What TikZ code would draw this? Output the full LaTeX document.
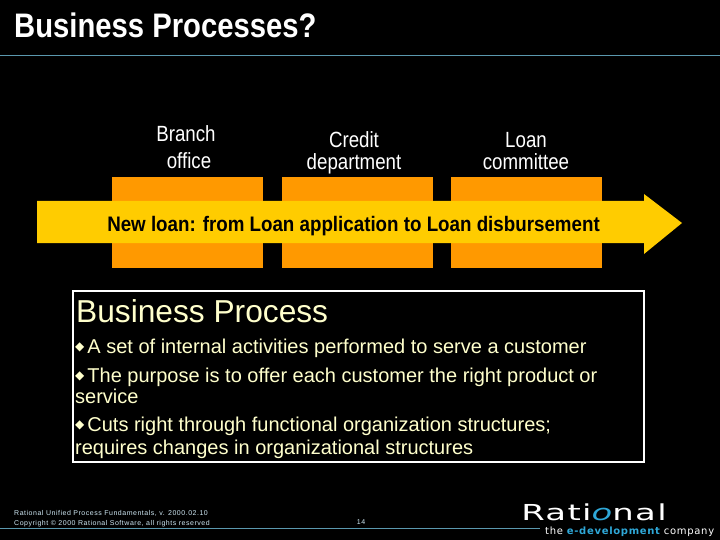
\documentclass[tikz,border=0pt]{standalone}
\usepackage{fontspec}
\setmainfont{Liberation Sans}
\newfontfamily\bulletfont{DejaVu Sans}
\newfontfamily\logofont[LetterSpace=4]{DejaVu Sans}
\newfontfamily\tagfont[LetterSpace=7]{DejaVu Sans}
\newfontfamily\tinyfont[LetterSpace=7.5]{Liberation Sans}
\definecolor{deptColor}{HTML}{FF9900}
\definecolor{arrowColor}{HTML}{FFCC00}
\definecolor{creamColor}{HTML}{FFFFCC}
\definecolor{ruleColor}{HTML}{5A98AE}
\definecolor{logoColor}{HTML}{2FA8D8}
\definecolor{footColor}{HTML}{CFE8F4}
\tikzset{
    squeezed/.style={transform shape, xscale=#1},
    deptlabel/.style={white, align=center, font=\fontsize{22}{22}\selectfont, inner sep=0pt, squeezed=0.85},
    bodyline/.style={creamColor, anchor=base west, font=\fontsize{20}{23}\selectfont, inner sep=0pt},
    footline/.style={footColor, anchor=base west, font=\tinyfont\fontsize{7}{9}\selectfont, inner sep=0pt},
}
\newcommand{\boxbullet}{\raisebox{2.5pt}{\bulletfont\fontsize{12}{12}\selectfont ◆}\kern3pt}

\begin{document}
\begin{tikzpicture}[x=1pt,y=-1pt]
    \useasboundingbox (0,0) rectangle (720,540);
    \fill[black] (0,0) rectangle (720,540);
    % heading
    \node[white, anchor=base west, inner sep=0pt, font=\bfseries\fontsize{34}{34}\selectfont, squeezed=0.86] (heading) at (14,38) {Business Processes?};
    \draw[ruleColor] (0,55) -- (720,55);
    % departments
    \fill[deptColor] (112,177) rectangle (263,268);
    \fill[deptColor] (282,177) rectangle (433,268);
    \fill[deptColor] (451,177) rectangle (602,268);
    \node[deptlabel, anchor=base] (branch) at (186,142) {Branch};
    \node[deptlabel, anchor=base] (office) at (189,169) {office};
    \node[deptlabel, anchor=base] (credit) at (354,148) {Credit};
    \node[deptlabel, anchor=base] (department) at (354,170) {department};
    \node[deptlabel, anchor=base] (loan) at (526,148) {Loan};
    \node[deptlabel, anchor=base] (committee) at (526,170) {committee};
    % process arrow
    \fill[arrowColor] (37,201) -- (644,201) -- (644,194) -- (682,223) -- (644,254) -- (644,243) -- (37,243) -- cycle;
    \node[black, anchor=base, inner sep=0pt, font=\bfseries\fontsize{21}{21}\selectfont, squeezed=0.893] (newloan) at (353.5,231) {New loan: from Loan application to Loan disbursement};
    % text box
    \draw[white, line width=1.5pt] (73,291) rectangle (644,462);
    \node[bodyline, font=\fontsize{31.7}{32}\selectfont] (title) at (76,322) {Business Process};
    \node[bodyline] (lineA) at (75,353) {\boxbullet A set of internal activities performed to serve a customer};
    \node[bodyline] (lineB) at (75,382) {\boxbullet The purpose is to offer each customer the right product or};
    \node[bodyline] (lineC) at (75,403) {service};
    \node[bodyline] (lineD) at (75,431) {\boxbullet Cuts right through functional organization structures;};
    \node[bodyline] (lineE) at (75,454) {requires changes in organizational structures};
    % footer
    \node[footline] (footA) at (14,515) {Rational Unified Process Fundamentals, v. 2000.02.10};
    \node[footline] (footB) at (14,525) {Copyright © 2000 Rational Software, all rights reserved};
    \node[footline, anchor=base] (pagenum) at (361,524) {14};
    \draw[ruleColor] (0,528) -- (540,528);
    % logo
    \node[white, anchor=base west, inner sep=0pt, font=\logofont\fontsize{22}{22}\selectfont, squeezed=1.54] (logo) at (521,520) {Rati{\color{logoColor}\itshape o}nal};
    \node[white, anchor=base west, inner sep=0pt, font=\tagfont\fontsize{10}{10}\selectfont] (tagline) at (545,534) {the {\color{logoColor}\bfseries e-development} company};
\end{tikzpicture}
\end{document}
